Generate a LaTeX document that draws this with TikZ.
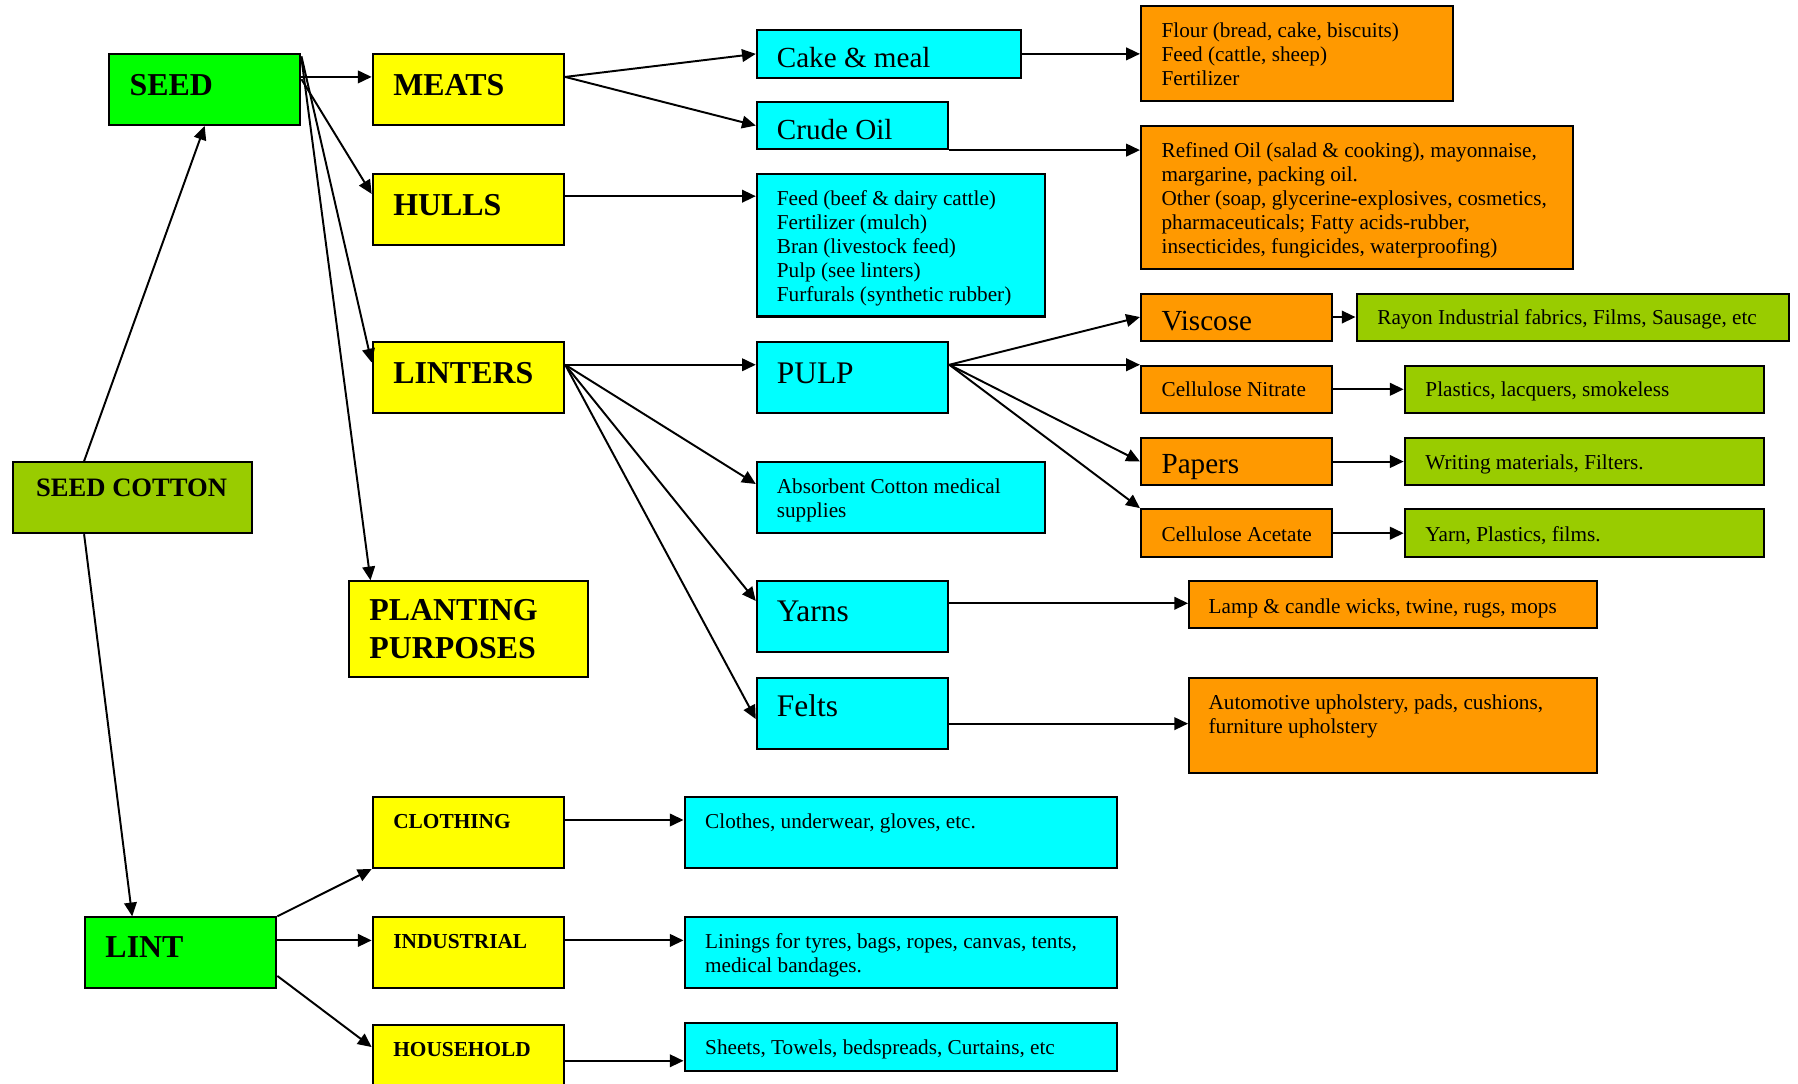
\documentclass[tikz,border=0pt]{standalone}
\usepackage{fontspec}
\setmainfont{Liberation Serif}
\usetikzlibrary{arrows.meta,fit,calc}
\definecolor{cgreen}{HTML}{00FF00}
\definecolor{cyel}{HTML}{FFFF00}
\definecolor{ccyan}{HTML}{00FFFF}
\definecolor{corange}{HTML}{FF9900}
\definecolor{colive}{HTML}{99CC00}
\newcommand\mlines[1]{\begin{tabular}[t]{@{}l@{}}#1\end{tabular}}
\begin{document}
\begin{tikzpicture}[x=0.5pt,y=-0.5pt,
 box/.style={draw=black, line width=0.9pt, inner sep=0pt},
 gbox/.style={box, fill=cgreen}, ybox/.style={box, fill=cyel}, cbox/.style={box, fill=ccyan},
 obox/.style={box, fill=corange}, lbox/.style={box, fill=colive},
 txt/.style={anchor=base west, inner sep=0pt},
 bigb/.style={txt, font=\fontsize{13.9}{16.5}\selectfont\bfseries},
 midb/.style={txt, font=\fontsize{11.6}{14}\selectfont\bfseries},
 smb/.style={txt, font=\fontsize{9.3}{11}\selectfont\bfseries},
 bigr/.style={txt, yshift=-0.75pt, font=\fontsize{12.7}{15}\selectfont},
 bigrr/.style={txt, yshift=-0.5pt, font=\fontsize{13.7}{16}\selectfont},
 sm/.style={txt, yshift=-1pt, font=\fontsize{9.25}{10.5}\selectfont},
 arr/.style={draw, line width=0.85pt, -{Triangle[length=6pt,width=5.5pt]}},
]
\useasboundingbox (0,0) rectangle (1568,945);
\fill[white] (0,0) rectangle (1568,945);
\clip (0,0) rectangle (1568,945);

% column 1
\node[gbox, fit={(95,47) (262,109)}] (seed) {};
\node[bigb] (seed-t) at ($(seed.north west)+(18.5,37)$) {SEED};
\node[lbox, fit={(11,403) (220,465)}] (sc) {};
\node[midb] (sc-t) at ($(sc.north west)+(21,30.5)$) {SEED COTTON};
\node[gbox, fit={(74,800) (241,862)}] (lint) {};
\node[bigb] (lint-t) at ($(lint.north west)+(18.5,36)$) {LINT};

% column 2
\node[ybox, fit={(325,47) (492,109)}] (meats) {};
\node[bigb] (meats-t) at ($(meats.north west)+(18.5,37)$) {MEATS};
\node[ybox, fit={(325,152) (492,214)}] (hulls) {};
\node[bigb] (hulls-t) at ($(hulls.north west)+(18.5,37)$) {HULLS};
\node[ybox, fit={(325,298) (492,360)}] (linters) {};
\node[bigb] (linters-t) at ($(linters.north west)+(18.5,37)$) {LINTERS};
\node[ybox, fit={(304,507) (513,590)}] (planting) {};
\node[bigb] (planting-t) at ($(planting.north west)+(18.6,35)$) {\mlines{PLANTING\\PURPOSES}};
\node[ybox, fit={(325,695) (492,757)}] (clothing) {};
\node[smb] (clothing-t) at ($(clothing.north west)+(18.5,28.5)$) {CLOTHING};
\node[ybox, fit={(325,800) (492,862)}] (industrial) {};
\node[smb] (industrial-t) at ($(industrial.north west)+(18.5,28.5)$) {INDUSTRIAL};
\node[ybox, fit={(325,894) (492,980)}] (household) {};
\node[smb] (household-t) at ($(household.north west)+(18.5,28)$) {HOUSEHOLD};

% column 3
\node[cbox, fit={(660,26) (890,68)}] (cake) {};
\node[bigr] (cake-t) at ($(cake.north west)+(18,32)$) {Cake \& meal};
\node[cbox, fit={(660,89) (827,130)}] (crude) {};
\node[bigr] (crude-t) at ($(crude.north west)+(18,32)$) {Crude Oil};
\node[cbox, fit={(660,152) (911,276)}] (hp) {};
\node[sm] (hp-t) at ($(hp.north west)+(18,26)$) {\mlines{Feed (beef \& dairy cattle)\\Fertilizer (mulch)\\Bran (livestock feed)\\Pulp (see linters)\\Furfurals (synthetic rubber)}};
\node[cbox, fit={(660,298) (827,360)}] (pulp) {};
\node[bigrr] (pulp-t) at ($(pulp.north west)+(18,36)$) {PULP};
\node[cbox, fit={(660,403) (911,465)}] (absorb) {};
\node[sm] (absorb-t) at ($(absorb.north west)+(18,26)$) {\mlines{Absorbent Cotton medical\\supplies}};
\node[cbox, fit={(660,507) (827,569)}] (yarns) {};
\node[bigrr] (yarns-t) at ($(yarns.north west)+(18,35)$) {Yarns};
\node[cbox, fit={(660,591) (827,653)}] (felts) {};
\node[bigrr] (felts-t) at ($(felts.north west)+(18,34)$) {Felts};
\node[cbox, fit={(597,695) (974,757)}] (clothes) {};
\node[sm] (clothes-t) at ($(clothes.north west)+(18.5,26)$) {Clothes, underwear, gloves, etc.};
\node[cbox, fit={(597,800) (974,862)}] (linings) {};
\node[sm] (linings-t) at ($(linings.north west)+(18.5,26)$) {\mlines{Linings for tyres, bags, ropes, canvas, tents,\\medical bandages.}};
\node[cbox, fit={(597,892) (974,934)}] (sheets) {};
\node[sm] (sheets-t) at ($(sheets.north west)+(18.5,26.5)$) {Sheets, Towels, bedspreads, Curtains, etc};

% column 4
\node[obox, fit={(995,5) (1267,88)}] (flour) {};
\node[sm] (flour-t) at ($(flour.north west)+(18.5,26.4)$) {\mlines{Flour (bread, cake, biscuits)\\Feed (cattle, sheep)\\Fertilizer}};
\node[obox, fit={(995,110) (1372,235)}] (refined) {};
\node[sm] (refined-t) at ($(refined.north west)+(18.5,26)$) {\mlines{Refined Oil (salad \& cooking), mayonnaise,\\margarine, packing oil.\\Other (soap, glycerine-explosives, cosmetics,\\pharmaceuticals; Fatty acids-rubber,\\insecticides, fungicides, waterproofing)}};
\node[obox, fit={(995,256) (1162,297)}] (viscose) {};
\node[bigr] (viscose-t) at ($(viscose.north west)+(18.5,32)$) {Viscose};
\node[obox, fit={(995,319) (1162,360)}] (cn) {};
\node[sm] (cn-t) at ($(cn.north west)+(18.5,26)$) {Cellulose Nitrate};
\node[obox, fit={(995,382) (1162,423)}] (papers) {};
\node[bigr] (papers-t) at ($(papers.north west)+(18.5,30.6)$) {Papers};
\node[obox, fit={(995,444) (1162,486)}] (ca) {};
\node[sm] (ca-t) at ($(ca.north west)+(18.5,27)$) {Cellulose Acetate};
\node[obox, fit={(1037,507) (1393,548)}] (lamp) {};
\node[sm] (lamp-t) at ($(lamp.north west)+(17.5,27)$) {Lamp \& candle wicks, twine, rugs, mops};
\node[obox, fit={(1037,591) (1393,674)}] (auto) {};
\node[sm] (auto-t) at ($(auto.north west)+(17.5,26.6)$) {\mlines{Automotive upholstery, pads, cushions,\\furniture upholstery}};

% column 5
\node[lbox, fit={(1183,256) (1560,297)}] (rayon) {};
\node[sm] (rayon-t) at ($(rayon.north west)+(18.7,25.7)$) {Rayon Industrial fabrics, Films, Sausage, etc};
\node[lbox, fit={(1225,319) (1538,360)}] (plastics) {};
\node[sm] (plastics-t) at ($(plastics.north west)+(18.6,26)$) {Plastics, lacquers, smokeless};
\node[lbox, fit={(1225,382) (1538,423)}] (writing) {};
\node[sm] (writing-t) at ($(writing.north west)+(18.6,26)$) {Writing materials, Filters.};
\node[lbox, fit={(1225,444) (1538,486)}] (yarnp) {};
\node[sm] (yarnp-t) at ($(yarnp.north west)+(18.6,27)$) {Yarn, Plastics, films.};

% connectors
\draw[arr] ($(sc.north west)!0.3!(sc.north east)$) -- (seed.south);
\draw[arr] ($(sc.south west)!0.3!(sc.south east)$) -- ($(lint.north west)!0.25!(lint.north east)$);
\draw[arr] ($(seed.north east)+(0,21)$) -- ($(meats.north west)+(0,21)$);
\draw[arr] ($(seed.north east)+(0,23)$) -- ($(hulls.north west)+(0,18)$);
\draw[arr] ($(seed.north east)+(0,3)$) -- ($(linters.north west)+(0,19)$);
\draw[arr] ($(seed.north east)+(0,5)$) -- ($(planting.north west)+(20,0)$);

\coordinate (mo) at ($(meats.north east)+(0,21)$);
\draw[arr] (mo) -- (cake.west);
\draw[arr] (mo) -- (crude.west);
\draw[arr] (cake.east) -- (cake.east -| flour.west);
\draw[arr] (crude.south east) -- (crude.south east -| refined.west);
\coordinate (ho) at ($(hulls.north east)+(0,20)$);
\draw[arr] (ho) -- (ho -| hp.west);

\coordinate (lo) at ($(linters.north east)+(0,21)$);
\draw[arr] (lo) -- (lo -| pulp.west);
\draw[arr] (lo) -- ($(absorb.north west)+(0,20)$);
\draw[arr] (lo) -- ($(yarns.north west)+(0,18)$);
\draw[arr] (lo) -- ($(felts.north west)+(0,37)$);

\coordinate (po) at ($(pulp.north east)+(0,21)$);
\draw[arr] (po) -- (viscose.west);
\draw[arr] (po) -- (cn.north west);
\draw[arr] (po) -- (papers.west);
\draw[arr] (po) -- (ca.north west);
\draw[arr] (viscose.east) -- (rayon.west);
\draw[arr] (cn.east) -- (plastics.west);
\draw[arr] (papers.east) -- (writing.west);
\draw[arr] (ca.east) -- (yarnp.west);

\coordinate (yo) at ($(yarns.north east)+(0,20)$);
\draw[arr] (yo) -- (yo -| lamp.west);
\coordinate (fo) at ($(felts.north east)+(0,41)$);
\draw[arr] (fo) -- (fo -| auto.west);

\draw[arr] (lint.north east) -- (clothing.south west);
\draw[arr] ($(lint.north east)+(0,21)$) -- ($(industrial.north west)+(0,21)$);
\draw[arr] ($(lint.north east)+(0,52)$) -- ($(household.north west)+(0,20)$);
\coordinate (co) at ($(clothing.north east)+(0,21)$);
\draw[arr] (co) -- (co -| clothes.west);
\coordinate (io) at ($(industrial.north east)+(0,21)$);
\draw[arr] (io) -- (io -| linings.west);
\coordinate (uo) at ($(household.north east)+(0,32)$);
\draw[arr] (uo) -- (uo -| sheets.west);
\end{tikzpicture}
\end{document}
